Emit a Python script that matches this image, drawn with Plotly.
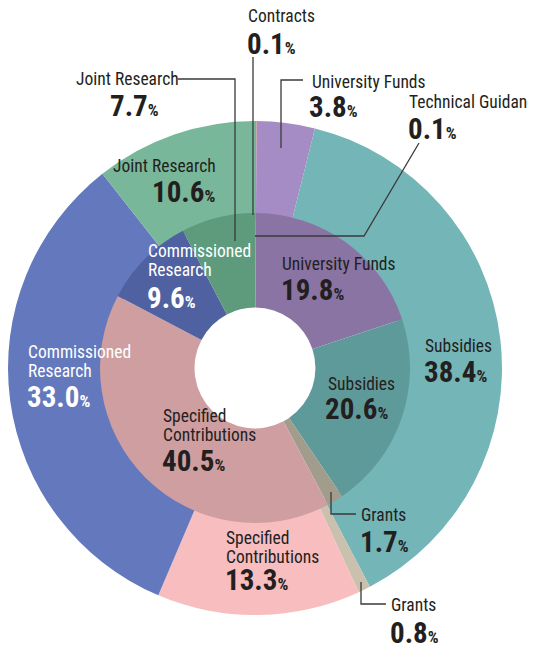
import plotly.graph_objects as go

# ---- data ----
outer_labels = ["Technical Guidance", "University Funds", "Subsidies", "Grants",
                "Specified Contributions", "Commissioned Research", "Joint Research"]
outer_values = [0.1, 3.8, 38.4, 0.8, 13.3, 33.0, 10.6]

inner_labels = ["Contracts", "University Funds", "Subsidies", "Grants",
                "Specified Contributions", "Commissioned Research", "Joint Research"]
inner_values = [0.1, 19.8, 20.6, 1.7, 40.5, 9.6, 7.7]

outer_colors = ["#d8922e", "#a58cc4", "#74b5b8", "#c9c0ae", "#f7bdbf", "#6378bd", "#79b79a"]
inner_colors = ["#d08a2a", "#8a74a4", "#5f9a9b", "#a19c8b", "#cf9ea0", "#4f61a0", "#5e9b7d"]

# page body has an 8px margin, so the figure is offset by 8px
OFF = 8
W, H = 536 - OFF, 648 - OFF
def px(x): return (x - OFF) / W
def py(y): return 1 - (y - OFF) / H

FONT = "Liberation Sans Narrow, Arial Narrow, Roboto Condensed, sans-serif"
DARK = "#231f20"

fig = go.Figure()
# outer ring: center (255,368) radius 247
fig.add_trace(go.Pie(
    labels=outer_labels, values=outer_values, sort=False, direction="clockwise",
    rotation=0, hole=0.6, textinfo="none",
    marker=dict(colors=outer_colors, line=dict(width=0)),
    domain=dict(x=[px(8), px(502)], y=[py(615), py(121)]),
    showlegend=False,
))
# inner ring: radius 155
fig.add_trace(go.Pie(
    labels=inner_labels, values=inner_values, sort=False, direction="clockwise",
    rotation=0, hole=0.39, textinfo="none",
    marker=dict(colors=inner_colors, line=dict(width=0)),
    domain=dict(x=[px(100), px(410)], y=[py(523), py(213)]),
    showlegend=False,
))

# label placements: (ring, index, x_name, y_first_name_line, x_val, y_val, color, name lines)
placements = [
    ("inner", 0, 247, 16, 247, 44, DARK, ["Contracts"]),
    ("outer", 1, 311, 82, 309, 107, DARK, ["University Funds"]),
    ("outer", 0, 408, 102, 408, 129, DARK, ["Technical Guidance"]),
    ("inner", 6, 75, 79, 110, 106, DARK, ["Joint Research"]),
    ("outer", 6, 112, 166, 152, 192, DARK, ["Joint Research"]),
    ("inner", 5, 147, 251, 147, 298, "white", ["Commissioned", "Research"]),
    ("inner", 1, 281, 264, 281, 290, DARK, ["University Funds"]),
    ("inner", 2, 327, 384, 325, 409, DARK, ["Subsidies"]),
    ("outer", 2, 424, 346, 424, 372, DARK, ["Subsidies"]),
    ("outer", 5, 27, 352, 27, 397, "white", ["Commissioned", "Research"]),
    ("inner", 4, 162, 416, 162, 461, DARK, ["Specified", "Contributions"]),
    ("outer", 4, 225, 538, 225, 580, DARK, ["Specified", "Contributions"]),
    ("inner", 3, 360, 515, 360, 542, DARK, ["Grants"]),
    ("outer", 3, 390, 605, 390, 633, DARK, ["Grants"]),
]
LINE_GAP = 18.5

annotations = []
for ring, idx, xn, yn, xv, yv, col, lines in placements:
    val = (inner_values if ring == "inner" else outer_values)[idx]
    for k, line in enumerate(lines):
        annotations.append(dict(
            x=px(xn - 1), y=py(yn + k * LINE_GAP), xref="paper", yref="paper",
            xanchor="left", yanchor="middle", text=line, showarrow=False, align="left",
            font=dict(family=FONT, size=17.5, color=col),
        ))
    annotations.append(dict(
        x=px(xv - 2), y=py(yv), xref="paper", yref="paper", xanchor="left", yanchor="middle",
        text=f"<b>{val:.1f}</b><span style='font-size:17px'><b>%</b></span>",
        showarrow=False, align="left",
        font=dict(family=FONT, size=29, color=col),
    ))

# leader lines (pixel polylines)
leaders = [
    [(253, 57), (253, 215)],
    [(303, 80), (281, 80), (281, 148)],
    [(419, 143), (364, 236), (255, 236)],
    [(178, 79), (235, 79), (235, 241)],
    [(331, 492), (331, 514), (356, 514)],
    [(361, 582), (361, 604), (386, 604)],
]
shapes = []
for pts in leaders:
    path = "M " + " L ".join(f"{px(x)},{py(y)}" for x, y in pts)
    shapes.append(dict(type="path", path=path, xref="paper", yref="paper",
                       line=dict(color="#3a3a3a", width=1.3)))

fig.update_layout(
    width=W, height=H, margin=dict(l=0, r=0, t=0, b=0),
    paper_bgcolor="white", plot_bgcolor="white",
    annotations=annotations, shapes=shapes,
)

fig.write_html("out.html")
